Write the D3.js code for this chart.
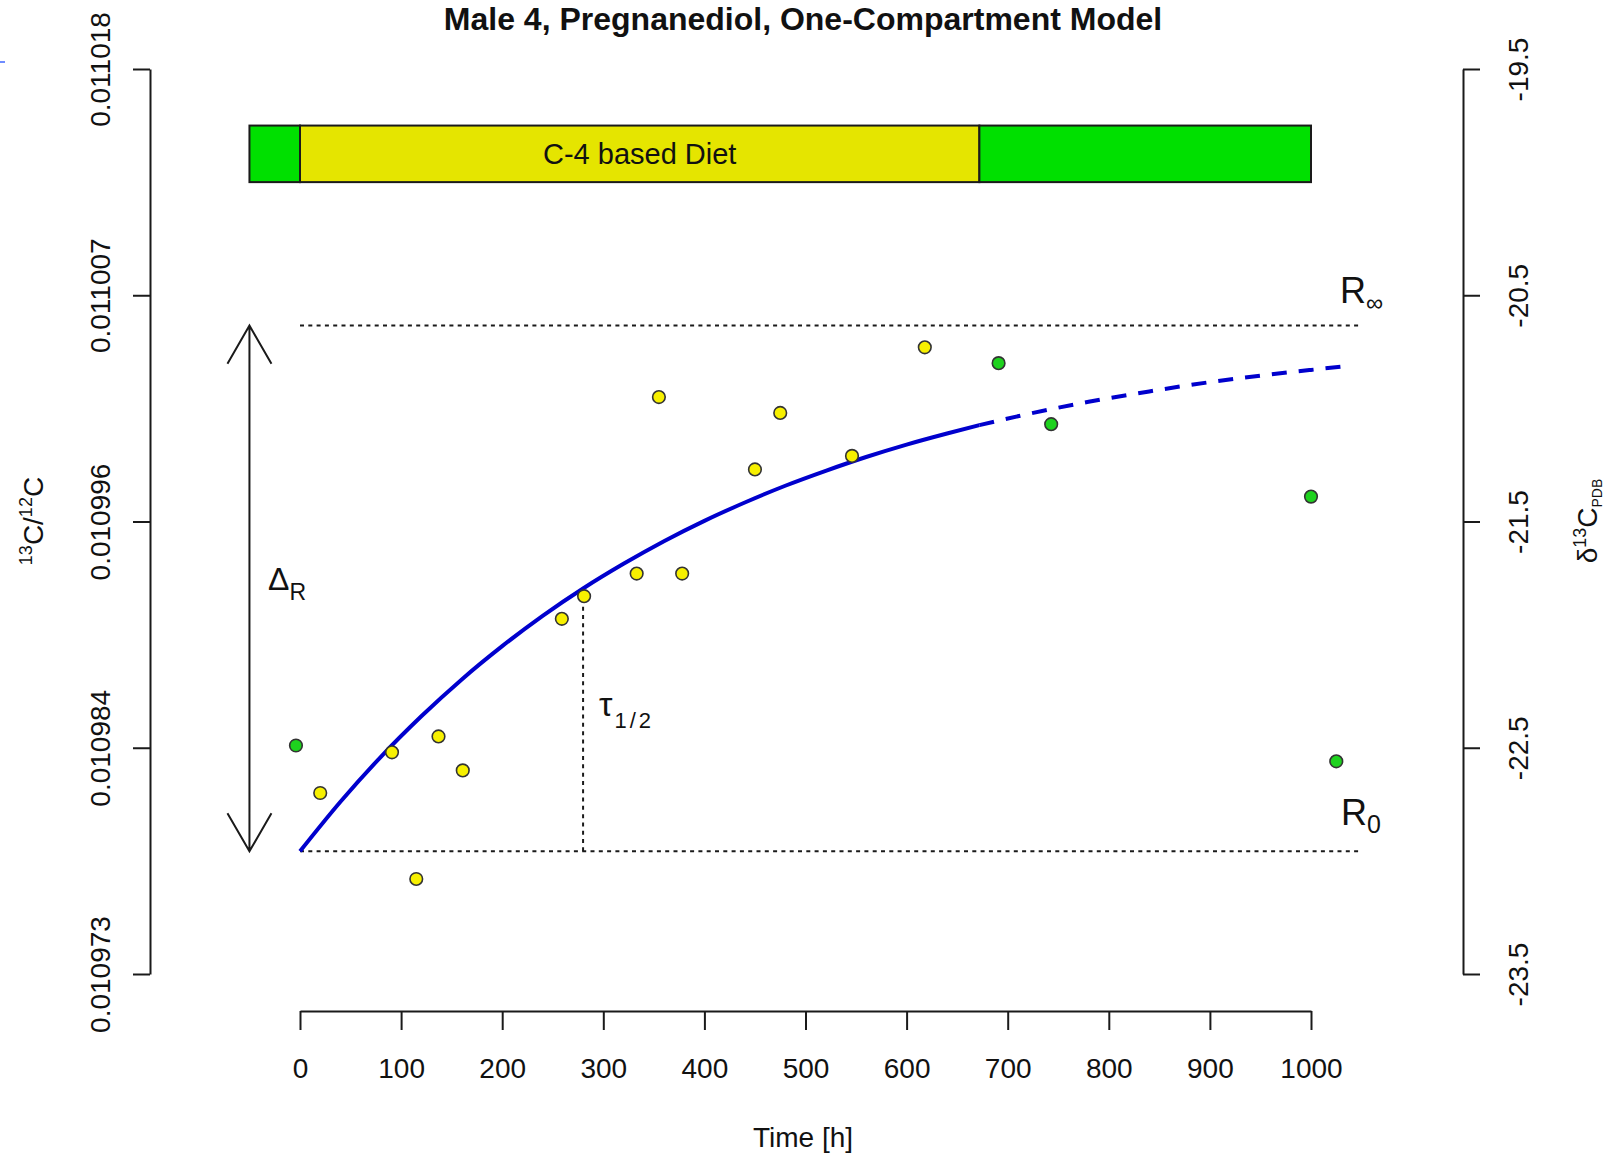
<!DOCTYPE html>
<html>
<head>
<meta charset="utf-8">
<script src="https://cdn.jsdelivr.net/npm/d3@7"></script>
<style>
  html, body { margin: 0; padding: 0; background: #fff; }
  svg { display: block; }
  text { font-family: "Liberation Sans", Arial, Helvetica, sans-serif; fill: #111; }
</style>
</head>
<body>
<svg id="chart" width="1604" height="1158"></svg>
<script>
// ---- data ---------------------------------------------------------------
// Urine samples on the C-3 (green) and C-4 (yellow) diet periods: time [h], delta13C [permil]
const greenTimes  = [-4, 691, 743, 1000, 1025];
const greenDelta  = [-22.49, -20.80, -21.07, -21.39, -22.56];
const yellowTimes = [20, 91, 115, 137, 161, 259, 281, 333, 355, 378, 450, 475, 546, 618];
const yellowDelta = [-22.70, -22.52, -23.08, -22.45, -22.60, -21.93, -21.83, -21.73, -20.95, -21.73, -21.27, -21.02, -21.21, -20.73];

// One-compartment model curve
const fitTimes = [0, 40, 80, 120, 160, 200, 240, 280, 320, 360, 400, 440, 480, 520, 560, 600, 640, 672, 720, 780, 840, 900, 960, 1000, 1040];
const fitDelta = [-22.958, -22.739, -22.540, -22.361, -22.198, -22.051, -21.917, -21.796, -21.687, -21.587, -21.497, -21.416, -21.342, -21.276, -21.215, -21.160, -21.111, -21.074, -21.025, -20.971, -20.925, -20.884, -20.850, -20.830, -20.811];

// Model parameters
const R0Delta = -22.958;
const RinfDelta = -20.634;
const halfLife = 280;

// Diet periods [start, end] in hours
const dietNames  = ["", "C-4 based Diet", ""];
const dietStart  = [-50, 0, 672];
const dietEnd    = [0, 672, 1000];
const dietColors = ["#00e000", "#e5e500", "#00e000"];
const dietBand   = [-20.0, -19.75];

// Axis ticks
const timeTicks      = [0, 100, 200, 300, 400, 500, 600, 700, 800, 900, 1000];
const deltaTicks     = [-23.5, -22.5, -21.5, -20.5, -19.5];
const deltaLabels    = ["-23.5", "-22.5", "-21.5", "-20.5", "-19.5"];
const ratioLabels    = ["0.010973", "0.010984", "0.010996", "0.011007", "0.011018"];

// ---- drawing ------------------------------------------------------------
const svg = d3.select("#chart");
const x = d3.scaleLinear().domain([0, 1000]).range([300, 1311]);
const y = d3.scaleLinear().domain([-23.5, -19.5]).range([974, 69]);

const ink = "#1a1a1a";

// Title
svg.append("text")
  .attr("x", 803).attr("y", 30)
  .attr("text-anchor", "middle")
  .style("font-size", "32px").style("font-weight", "bold")
  .text("Male 4, Pregnanediol, One-Compartment Model");

// small blue mark at the left edge
svg.append("line").attr("x1", 0).attr("x2", 5).attr("y1", 62).attr("y2", 62)
  .attr("stroke", "#6f8cff").attr("stroke-width", 2);

function styleAxis(g) {
  g.select(".domain").attr("stroke", ink).attr("stroke-width", 2);
  g.selectAll(".tick line").attr("stroke", ink).attr("stroke-width", 2);
  g.selectAll(".tick text").style("font-size", "28px").attr("fill", ink)
    .style("font-family", "'Liberation Sans', Arial, sans-serif");
}

// Left axis (isotope ratio)
const gLeft = svg.append("g").attr("transform", "translate(150,0)")
  .call(d3.axisLeft(y).tickValues(deltaTicks).tickSize(17).tickSizeOuter(0)
        .tickFormat((d, i) => ratioLabels[i]));
styleAxis(gLeft);
gLeft.selectAll(".tick text")
  .attr("x", null).attr("dy", null).attr("y", null)
  .attr("text-anchor", "middle")
  .attr("transform", "translate(-40,0) rotate(-90)");

// Right axis (delta13C)
const gRight = svg.append("g").attr("transform", "translate(1463,0)")
  .call(d3.axisRight(y).tickValues(deltaTicks).tickSize(17).tickSizeOuter(0)
        .tickFormat((d, i) => deltaLabels[i]));
styleAxis(gRight);
gRight.selectAll(".tick text")
  .attr("x", null).attr("dy", null).attr("y", null)
  .attr("text-anchor", "middle")
  .attr("transform", "translate(65,0) rotate(-90)");

// Bottom axis (time)
const gBottom = svg.append("g").attr("transform", "translate(0,1011)")
  .call(d3.axisBottom(x).tickValues(timeTicks).tickSize(19).tickSizeOuter(0)
        .tickFormat(d3.format("d")));
styleAxis(gBottom);
gBottom.selectAll(".tick text").attr("y", 67).attr("dy", null);

// Axis titles
svg.append("text").attr("x", 803).attr("y", 1147).attr("text-anchor", "middle")
  .style("font-size", "28px").text("Time [h]");

const lt = svg.append("text").attr("text-anchor", "middle")
  .attr("transform", "translate(43,521) rotate(-90)").style("font-size", "28px");
lt.append("tspan").style("font-size", "18px").attr("dy", -11).text("13");
lt.append("tspan").attr("dy", 11).text("C/");
lt.append("tspan").style("font-size", "18px").attr("dy", -11).text("12");
lt.append("tspan").attr("dy", 11).text("C");

const rt = svg.append("text").attr("text-anchor", "middle")
  .attr("transform", "translate(1597,521) rotate(-90)").style("font-size", "28px");
rt.append("tspan").text("δ");
rt.append("tspan").style("font-size", "18px").attr("dy", -11).text("13");
rt.append("tspan").attr("dy", 11).text("C");
rt.append("tspan").style("font-size", "14px").attr("dy", 5).text("PDB");

// Diet band
const diet = dietStart.map((s, i) => ({ s, e: dietEnd[i], c: dietColors[i], n: dietNames[i] }));
svg.append("g").selectAll("rect").data(diet).join("rect")
  .attr("x", d => x(d.s)).attr("width", d => x(d.e) - x(d.s))
  .attr("y", y(dietBand[1])).attr("height", y(dietBand[0]) - y(dietBand[1]))
  .attr("fill", d => d.c).attr("stroke", ink).attr("stroke-width", 2);
svg.append("g").selectAll("text").data(diet.filter(d => d.n)).join("text")
  .attr("x", d => (x(d.s) + x(d.e)) / 2).attr("y", 163.5)
  .attr("text-anchor", "middle").style("font-size", "29px").text(d => d.n);

// Reference levels R0 and Rinf
const dotted = { stroke: ink, "stroke-width": 2, "stroke-dasharray": "4,4.3" };
function applyAttrs(sel, o) { for (const k in o) sel.attr(k, o[k]); return sel; }
applyAttrs(svg.append("line").attr("x1", x(0)).attr("x2", x(1050))
  .attr("y1", y(RinfDelta)).attr("y2", y(RinfDelta)), dotted);
applyAttrs(svg.append("line").attr("x1", x(0)).attr("x2", x(1050))
  .attr("y1", y(R0Delta)).attr("y2", y(R0Delta)), dotted);
// half-life marker
applyAttrs(svg.append("line").attr("x1", x(halfLife)).attr("x2", x(halfLife))
  .attr("y1", y(R0Delta)).attr("y2", y((R0Delta + RinfDelta) / 2)), dotted);

// Double arrow for the total change Delta_R
const ax = x(-50);
const yTop = y(RinfDelta), yBot = y(R0Delta);
const headLen = 44, headAng = 30 * Math.PI / 180;
const hx = headLen * Math.sin(headAng), hy = headLen * Math.cos(headAng);
svg.append("path")
  .attr("d", `M${ax},${yBot}V${yTop}` +
             `M${ax - hx},${yTop + hy}L${ax},${yTop}L${ax + hx},${yTop + hy}` +
             `M${ax - hx},${yBot - hy}L${ax},${yBot}L${ax + hx},${yBot - hy}`)
  .attr("fill", "none").attr("stroke", ink).attr("stroke-width", 2);

// Annotation labels
const dl = svg.append("text").attr("x", 268).attr("y", 590).style("font-size", "32px");
dl.append("tspan").text("Δ");
dl.append("tspan").style("font-size", "23px").attr("dy", 10).text("R");

const tl = svg.append("text").attr("x", 599).attr("y", 716).style("font-size", "34px");
tl.append("tspan").text("τ");
tl.append("tspan").style("font-size", "22px").attr("dy", 12).attr("dx", 2)
  .style("letter-spacing", "3px").text("1/2");

const ri = svg.append("text").attr("x", 1340).attr("y", 303).style("font-size", "36px");
ri.append("tspan").text("R");
ri.append("tspan").style("font-size", "24px").attr("dy", 8).text("∞");

const r0 = svg.append("text").attr("x", 1341).attr("y", 825).style("font-size", "36px");
r0.append("tspan").text("R");
r0.append("tspan").style("font-size", "25px").attr("dy", 8).text("0");

// Model curve: solid during the C-4 period, dashed afterwards
const fit = fitTimes.map((t, i) => ({ t, v: fitDelta[i] }));
const line = d3.line().x(d => x(d.t)).y(d => y(d.v)).curve(d3.curveMonotoneX);
svg.append("path").datum(fit.filter(d => d.t <= 672)).attr("d", line)
  .attr("fill", "none").attr("stroke", "#0000cd").attr("stroke-width", 4);
svg.append("path").datum(fit.filter(d => d.t >= 672)).attr("d", line)
  .attr("fill", "none").attr("stroke", "#0000cd").attr("stroke-width", 4)
  .attr("stroke-dasharray", "15,12");

// Sample points
const yellowPts = yellowTimes.map((t, i) => ({ t, v: yellowDelta[i] }));
const greenPts = greenTimes.map((t, i) => ({ t, v: greenDelta[i] }));
svg.append("g").selectAll("circle").data(yellowPts).join("circle")
  .attr("cx", d => x(d.t)).attr("cy", d => y(d.v)).attr("r", 6.3)
  .attr("fill", "#f7f000").attr("stroke", "#333").attr("stroke-width", 1.6);
svg.append("g").selectAll("circle").data(greenPts).join("circle")
  .attr("cx", d => x(d.t)).attr("cy", d => y(d.v)).attr("r", 6.3)
  .attr("fill", "#1ed21e").attr("stroke", "#333").attr("stroke-width", 1.6);
</script>
</body>
</html>
